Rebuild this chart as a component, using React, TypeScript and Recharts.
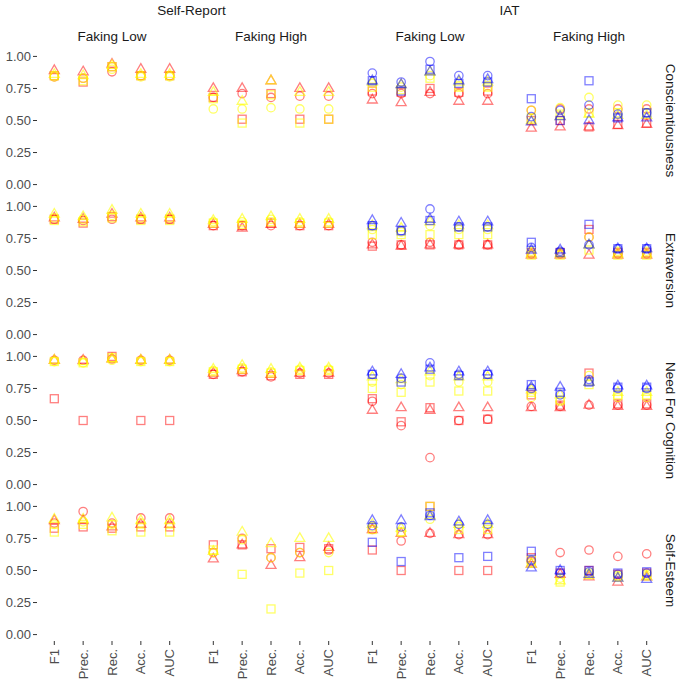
import { ScatterChart, Scatter, XAxis, YAxis } from "recharts";

const metrics = ["F1", "Prec.", "Rec.", "Acc.", "AUC"];
const measures = ["Self-Report", "IAT"];
const fakings = ["Faking Low", "Faking High"];
const traits = ["Conscientiousness", "Extraversion", "Need For Cognition", "Self-Esteem"];
const yTicks = [0, 0.25, 0.5, 0.75, 1];

// one row per series, in this order:
// red circle, red triangle, red square, yellow circle, yellow triangle, yellow square,
// blue circle, blue triangle, blue square — values for F1, Prec., Rec., Acc., AUC
const seriesColors = ["red", "red", "red", "yellow", "yellow", "yellow", "blue", "blue", "blue"];
const seriesShapes = ["circle", "triangle", "square", "circle", "triangle", "square", "circle", "triangle", "square"];

const none = [null, null, null, null, null];

const consSRLow = [
  [0.84, 0.83, 0.88, 0.85, 0.85],
  [0.89, 0.88, 0.94, 0.9, 0.9],
  [0.85, 0.8, 0.92, 0.85, 0.85],
  [0.84, 0.83, 0.9, 0.84, 0.84],
  [0.86, 0.85, 0.93, 0.86, 0.86],
  [0.85, 0.81, 0.92, 0.85, 0.85],
  none, none, none,
];
const consSRHigh = [
  [0.68, 0.71, 0.68, 0.69, 0.69],
  [0.75, 0.75, 0.81, 0.75, 0.75],
  [0.68, 0.51, 0.71, 0.51, 0.51],
  [0.59, 0.59, 0.6, 0.59, 0.59],
  [0.72, 0.65, 0.81, 0.72, 0.72],
  [0.67, 0.48, 0.7, 0.48, 0.51],
  none, none, none,
];
const consIATLow = [
  [0.71, 0.71, 0.71, 0.71, 0.71],
  [0.66, 0.64, 0.72, 0.65, 0.65],
  [0.73, 0.72, 0.75, 0.72, 0.73],
  [0.79, 0.76, 0.85, 0.77, 0.77],
  [0.8, 0.78, 0.88, 0.8, 0.8],
  [0.76, 0.74, 0.83, 0.76, 0.76],
  [0.87, 0.8, 0.96, 0.85, 0.85],
  [0.81, 0.78, 0.88, 0.81, 0.82],
  [0.81, 0.73, 0.9, 0.79, 0.8],
];
const consIATHigh = [
  [0.58, 0.59, 0.59, 0.59, 0.59],
  [0.44, 0.45, 0.45, 0.46, 0.47],
  [0.5, 0.5, 0.45, 0.47, 0.48],
  [0.58, 0.6, 0.68, 0.62, 0.62],
  [0.5, 0.53, 0.55, 0.54, 0.54],
  [0.52, 0.55, 0.56, 0.56, 0.56],
  [0.53, 0.58, 0.62, 0.55, 0.56],
  [0.49, 0.53, 0.5, 0.52, 0.52],
  [0.67, 0.5, 0.81, 0.52, 0.56],
];

const extSRLow = [
  [0.9, 0.89, 0.9, 0.9, 0.9],
  [0.91, 0.9, 0.94, 0.91, 0.91],
  [0.9, 0.87, 0.92, 0.9, 0.9],
  [0.91, 0.9, 0.93, 0.91, 0.91],
  [0.94, 0.92, 0.97, 0.94, 0.94],
  [0.89, 0.88, 0.91, 0.89, 0.89],
  none, none, none,
];
const extSRHigh = [
  [0.85, 0.85, 0.85, 0.85, 0.85],
  [0.86, 0.83, 0.86, 0.86, 0.86],
  [0.85, 0.85, 0.87, 0.85, 0.85],
  [0.88, 0.88, 0.9, 0.88, 0.88],
  [0.89, 0.9, 0.92, 0.9, 0.9],
  [0.87, 0.86, 0.88, 0.87, 0.87],
  none, none, none,
];
const extIATLow = [
  [0.72, 0.7, 0.72, 0.7, 0.7],
  [0.7, 0.69, 0.7, 0.7, 0.7],
  [0.69, 0.7, 0.7, 0.7, 0.7],
  [0.82, 0.8, 0.85, 0.82, 0.82],
  [0.85, 0.83, 0.88, 0.85, 0.85],
  [0.78, 0.78, 0.78, 0.78, 0.78],
  [0.85, 0.81, 0.98, 0.84, 0.84],
  [0.89, 0.87, 0.9, 0.88, 0.88],
  [0.85, 0.81, 0.89, 0.84, 0.84],
];
const extIATHigh = [
  [0.63, 0.63, 0.76, 0.63, 0.63],
  [0.62, 0.62, 0.62, 0.62, 0.62],
  [0.64, 0.64, 0.82, 0.64, 0.64],
  [0.65, 0.64, 0.76, 0.65, 0.65],
  [0.63, 0.63, 0.7, 0.63, 0.63],
  [0.62, 0.62, 0.66, 0.62, 0.62],
  [0.68, 0.65, 0.7, 0.67, 0.67],
  [0.66, 0.66, 0.7, 0.67, 0.67],
  [0.72, 0.64, 0.86, 0.67, 0.67],
];

const nfcSRLow = [
  [0.97, 0.97, 0.98, 0.97, 0.97],
  [0.97, 0.97, 0.98, 0.97, 0.97],
  [0.67, 0.5, 1.0, 0.5, 0.5],
  [0.96, 0.95, 0.97, 0.96, 0.96],
  [0.97, 0.96, 0.98, 0.97, 0.97],
  [0.96, 0.95, 0.99, 0.96, 0.96],
  none, none, none,
];
const nfcSRHigh = [
  [0.86, 0.88, 0.84, 0.87, 0.87],
  [0.87, 0.89, 0.86, 0.87, 0.87],
  [0.86, 0.88, 0.85, 0.86, 0.86],
  [0.89, 0.91, 0.88, 0.9, 0.9],
  [0.9, 0.93, 0.9, 0.91, 0.91],
  [0.88, 0.9, 0.87, 0.89, 0.89],
  none, none, none,
];
const nfcIATLow = [
  [0.65, 0.46, 0.21, 0.5, 0.51],
  [0.58, 0.6, 0.58, 0.6, 0.6],
  [0.67, 0.49, 0.6, 0.5, 0.51],
  [0.8, 0.78, 0.85, 0.8, 0.8],
  [0.84, 0.82, 0.88, 0.84, 0.84],
  [0.75, 0.72, 0.8, 0.73, 0.73],
  [0.86, 0.83, 0.95, 0.86, 0.86],
  [0.88, 0.86, 0.91, 0.88, 0.88],
  [0.86, 0.8, 0.9, 0.85, 0.86],
];
const nfcIATHigh = [
  [0.61, 0.61, 0.62, 0.62, 0.62],
  [0.6, 0.6, 0.62, 0.61, 0.61],
  [0.7, 0.62, 0.87, 0.63, 0.63],
  [0.68, 0.65, 0.85, 0.68, 0.68],
  [0.74, 0.7, 0.8, 0.72, 0.72],
  [0.72, 0.66, 0.78, 0.7, 0.7],
  [0.75, 0.7, 0.82, 0.75, 0.75],
  [0.76, 0.76, 0.8, 0.77, 0.77],
  [0.78, 0.72, 0.8, 0.76, 0.76],
];

const seSRLow = [
  [0.87, 0.96, 0.87, 0.91, 0.91],
  [0.89, 0.89, 0.84, 0.86, 0.86],
  [0.83, 0.84, 0.83, 0.84, 0.84],
  [0.86, 0.88, 0.86, 0.87, 0.87],
  [0.9, 0.9, 0.91, 0.89, 0.89],
  [0.8, 0.86, 0.81, 0.8, 0.8],
  none, none, none,
];
const seSRHigh = [
  [0.64, 0.75, 0.6, 0.64, 0.66],
  [0.59, 0.7, 0.54, 0.6, 0.68],
  [0.7, 0.7, 0.67, 0.68, 0.67],
  [0.64, 0.74, 0.6, 0.64, 0.64],
  [0.65, 0.8, 0.71, 0.75, 0.75],
  [0.66, 0.47, 0.2, 0.48, 0.5],
  none, none, none,
];
const seIATLow = [
  [0.82, 0.73, 0.79, 0.78, 0.78],
  [0.82, 0.79, 0.79, 0.78, 0.78],
  [0.66, 0.5, 1.0, 0.5, 0.5],
  [0.84, 0.8, 0.9, 0.84, 0.85],
  [0.86, 0.83, 0.93, 0.86, 0.86],
  [0.82, 0.8, 1.0, 0.82, 0.82],
  [0.85, 0.84, 0.93, 0.86, 0.86],
  [0.89, 0.89, 0.92, 0.88, 0.89],
  [0.72, 0.57, 0.95, 0.6, 0.61],
];
const seIATHigh = [
  [0.57, 0.64, 0.66, 0.61, 0.63],
  [0.55, 0.47, 0.45, 0.41, 0.45],
  [0.6, 0.48, 0.5, 0.47, 0.48],
  [0.56, 0.44, 0.47, 0.45, 0.46],
  [0.55, 0.42, 0.46, 0.44, 0.45],
  [0.58, 0.41, 0.48, 0.46, 0.47],
  [0.58, 0.48, 0.49, 0.47, 0.48],
  [0.52, 0.5, 0.47, 0.44, 0.43],
  [0.65, 0.5, 0.5, 0.48, 0.49],
];

const panels = [
  [consSRLow, consSRHigh, consIATLow, consIATHigh],
  [extSRLow, extSRHigh, extIATLow, extIATHigh],
  [nfcSRLow, nfcSRHigh, nfcIATLow, nfcIATHigh],
  [seSRLow, seSRHigh, seIATLow, seIATHigh],
];

const COLORS: Record<string, { c: string; o: number }> = {
  red: { c: "#FF0000", o: 0.5 },
  yellow: { c: "#FFFF00", o: 0.6 },
  blue: { c: "#0000FF", o: 0.5 },
};

const X0 = 37;
const PW = 150;
const PX = 159;
const Y0 = 50;
const PH = 141;
const PY = 150;
const YAXIS_W = 37;
const XAXIS_H = 48;
const FONT = "'Liberation Sans', Arial, sans-serif";

function Marker({ cx, cy, kind, color }: any) {
  if (cx == null || cy == null) return null;
  const { c, o } = COLORS[color];
  const common = { fill: "none", stroke: c, strokeOpacity: o, strokeWidth: 1.3 };
  if (kind === "circle") return <circle cx={cx} cy={cy} r={4.2} {...common} />;
  if (kind === "square") return <rect x={cx - 4} y={cy - 4} width={8} height={8} {...common} />;
  return <path d={`M${cx},${cy - 5.6}L${cx + 5},${cy + 3}L${cx - 5},${cy + 3}Z`} {...common} />;
}

function XTick({ x, y, payload }: any) {
  return (
    <text
      x={x}
      y={y}
      dy="0.35em"
      textAnchor="end"
      transform={`rotate(-90 ${x} ${y})`}
      fontSize={13}
      fill="#4D4D4D"
      fontFamily={FONT}
    >
      {metrics[payload.value - 1]}
    </text>
  );
}

function Panel({ rows, r, c }: { rows: (number | null)[][]; r: number; c: number }) {
  const showY = c === 0;
  const showX = r === traits.length - 1;
  const w = PW + (showY ? YAXIS_W : 0);
  const h = PH + (showX ? XAXIS_H : 0);
  const left = X0 + c * PX - (showY ? YAXIS_W : 0);
  const top = Y0 + r * PY;
  return (
    <div style={{ position: "absolute", left, top }}>
      <ScatterChart width={w} height={h} margin={{ top: 0, right: 0, bottom: 0, left: 0 }} style={{ overflow: "visible" }}>
        <XAxis
          type="number"
          dataKey="x"
          domain={[0.4, 5.6]}
          ticks={[1, 2, 3, 4, 5]}
          interval={0}
          hide={!showX}
          height={XAXIS_H}
          axisLine={false}
          tickSize={4}
          tickMargin={4}
          tickLine={{ stroke: "#333333" }}
          tick={<XTick />}
        />
        <YAxis
          type="number"
          dataKey="y"
          domain={[-0.05, 1.05]}
          ticks={yTicks}
          interval={0}
          hide={!showY}
          width={YAXIS_W}
          axisLine={false}
          tickSize={4}
          tickMargin={2}
          tickLine={{ stroke: "#333333" }}
          tickFormatter={(v: number) => v.toFixed(2)}
          tick={{ fontSize: 13, fill: "#4D4D4D", fontFamily: FONT }}
        />
        {rows.map((vals, i) => {
          const data = vals
            .map((v, j) => ({ x: j + 1, y: v }))
            .filter((d) => d.y != null);
          if (data.length === 0) return null;
          return (
            <Scatter
              key={i}
              data={data}
              isAnimationActive={false}
              shape={(p: any) => <Marker cx={p.cx} cy={p.cy} kind={seriesShapes[i]} color={seriesColors[i]} />}
            />
          );
        })}
      </ScatterChart>
    </div>
  );
}

export default function App() {
  return (
    <div style={{ position: "absolute", left: 0, top: 0, width: 684, height: 685, background: "#fff", overflow: "hidden" }}>
      {panels.map((row, r) => row.map((rows, c) => <Panel key={`${r}-${c}`} rows={rows} r={r} c={c} />))}
      <svg width={684} height={685} style={{ position: "absolute", left: 0, top: 0, pointerEvents: "none" }}>
        {measures.map((m, i) => (
          <text
            key={m}
            x={X0 + i * 2 * PX + (PX + PW) / 2}
            y={15}
            textAnchor="middle"
            fontSize={13.5}
            fill="#1A1A1A"
            fontFamily={FONT}
          >
            {m}
          </text>
        ))}
        {measures.map((m, i) =>
          fakings.map((f, j) => (
            <text
              key={`${m}-${f}`}
              x={X0 + (i * 2 + j) * PX + PW / 2}
              y={41}
              textAnchor="middle"
              fontSize={13.5}
              fill="#1A1A1A"
              fontFamily={FONT}
            >
              {f}
            </text>
          ))
        )}
        {traits.map((t, r) => {
          const cx = 670;
          const cy = Y0 + r * PY + PH / 2;
          return (
            <text
              key={t}
              x={cx}
              y={cy}
              textAnchor="middle"
              dominantBaseline="central"
              transform={`rotate(90 ${cx} ${cy})`}
              fontSize={13.5}
              fill="#1A1A1A"
              fontFamily={FONT}
            >
              {t}
            </text>
          );
        })}
      </svg>
    </div>
  );
}
